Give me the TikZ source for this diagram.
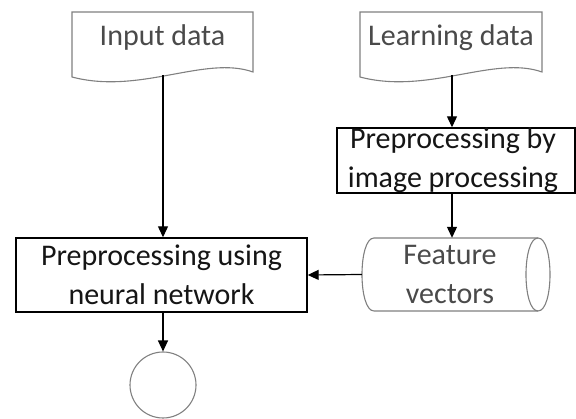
\documentclass[tikz,border=0pt]{standalone}
\usepackage{fontspec}
\setmainfont{Carlito}
\usetikzlibrary{arrows.meta}
\definecolor{shapegray}{HTML}{808080}
\definecolor{textgray}{HTML}{4A4A4A}
\definecolor{textdark}{HTML}{151515}
\tikzset{
  lbl/.style={font=\fontsize{30}{39}\selectfont, align=center, inner sep=0pt},
  graylbl/.style={lbl, text=textgray},
  darklbl/.style={lbl, text=textdark},
  grayline/.style={draw=shapegray, line width=1.1pt},
  procbox/.style={draw=black, line width=1.4pt, fill=white},
  conn/.style={draw=black, line width=1.2pt, -{Triangle[length=11pt,width=10pt]}}
}
\begin{document}
\begin{tikzpicture}[x=1pt,y=-1pt]
\useasboundingbox (0,0) rectangle (576,419);
% Input data document
\path[grayline] (72,12) -- (253,12) -- (253,72) .. controls (205,55) and (140,95) .. (72,77) -- cycle;
\node[graylbl] (in) at (162.5,38) {Input data};
\coordinate (inb) at (163,75);
% Learning data document
\path[grayline] (360,12) -- (542,12) -- (542,72) .. controls (494,55) and (428,95) .. (360,77) -- cycle;
\node[graylbl] (ld) at (451,38) {Learning data};
\coordinate (ldb) at (452,75);
% Preprocessing by image processing
\node[procbox, minimum width=238pt, minimum height=65pt, inner sep=0pt] (pip) at (456,160.5) {};
\node[darklbl] (piptxt) at (453,160.5) {Preprocessing by\\image processing};
% Feature vectors cylinder
\path[grayline] (374,238) -- (538,238) .. controls (554,238) and (554,311) .. (538,311)
  -- (374,311) .. controls (358,311) and (358,238) .. (374,238) -- cycle;
\path[grayline] (538,238) .. controls (522,238) and (522,311) .. (538,311);
\node[inner sep=0pt, minimum width=188pt, minimum height=73pt] (fv) at (456,274.5) {};
\node[graylbl] (fvtxt) at (450,274.5) {Feature\\vectors};
% Preprocessing using neural network
\node[procbox, minimum width=291pt, minimum height=74pt, inner sep=0pt] (pnn) at (161.5,275) {};
\node[darklbl] (pnntxt) at (pnn.center) {Preprocessing using\\neural network};
% Terminal circle
\node[circle, draw=shapegray, line width=1.1pt, minimum size=66pt, inner sep=0pt] (end) at (163,385) {};
% Connectors
\draw[conn] (inb) -- (inb |- pnn.north);
\draw[conn] (ldb) -- (ldb |- pip.north);
\draw[conn] (ldb |- pip.south) -- (ldb |- fv.north);
\draw[conn] (fv.west) -- (pnn.east);
\draw[conn] (inb |- pnn.south) -- (end.north);
\end{tikzpicture}
\end{document}
